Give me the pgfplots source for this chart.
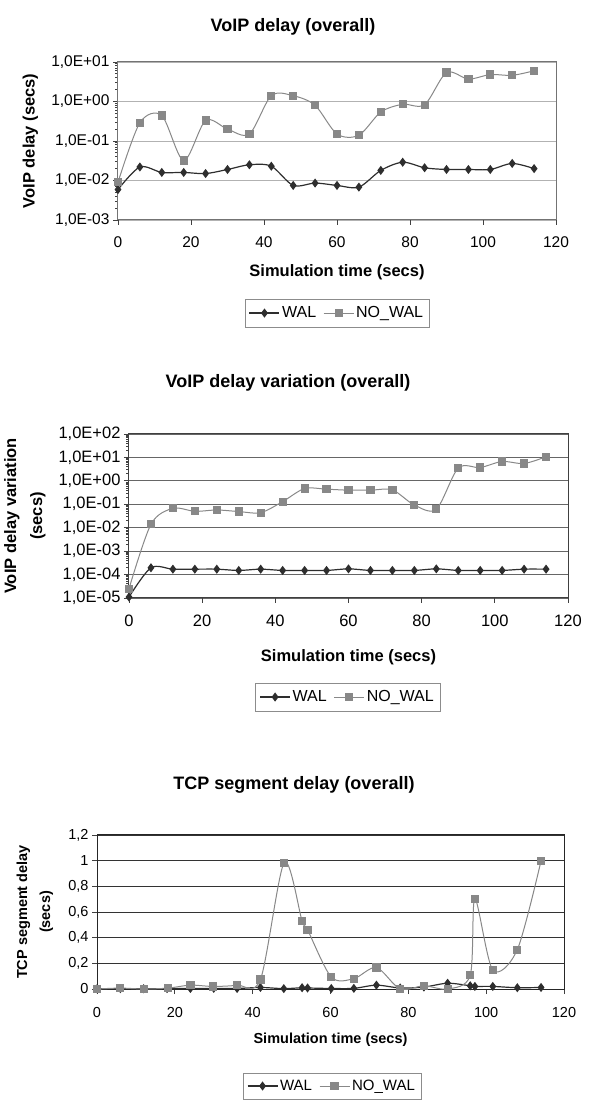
\documentclass[border=0pt]{standalone}
\usepackage{fontspec}
\setmainfont{Liberation Sans}
\usepackage{pgfplots}
\pgfplotsset{compat=1.18}

\definecolor{nowal}{HTML}{888888}
\definecolor{wal}{HTML}{2E2E2E}

\pgfplotsset{
  excel/.style={
    scale only axis, anchor=south west,
    xmin=0, xmax=120, xtick={0,20,...,120},
    ymajorgrids, tick align=outside, major tick length=5pt,
    xtick pos=bottom, ytick pos=left,
    tick style={black!75, line width=0.8pt},
    tick label style={font=\fontsize{15.5}{17}\selectfont},
    xticklabel style={yshift=-8pt},
    /pgf/number format/assume math mode=true,
    label style={font=\bfseries\fontsize{16.5}{18}\selectfont},
    legend columns=2,
    legend style={draw=black!45, font=\fontsize{16}{18}\selectfont, anchor=center,
      inner xsep=4pt, inner ysep=6pt, /tikz/every even column/.append style={column sep=5pt}},
    legend image code/.code={\draw[mark repeat=2,mark phase=2,#1]
      plot coordinates {(0pt,0pt) (15pt,0pt) (30pt,0pt)};},
  },
  walplot/.style={wal, line width=1.2pt, smooth, mark=diamond*, mark size=3.6pt,
    mark options={solid, fill=wal, draw=wal}},
  nowalplot/.style={nowal, line width=1pt, smooth, mark=square*, mark size=3.6pt,
    mark options={solid, fill=nowal, draw=nowal}},
}

\begin{document}
\begin{tikzpicture}[x=1pt,y=1pt]
\path[use as bounding box] (0,0) rectangle (595,1100);

% ---------- VoIP delay ----------
\node[font=\bfseries\fontsize{18}{21}\selectfont] at (293,1073) {VoIP delay (overall)};
\begin{axis}[excel,
  at={(118pt,880pt)}, width=438pt, height=158pt,
  ymode=log, ymin=0.001, ymax=10,
  ytick={0.001,0.01,0.1,1,10},
  yticklabels={{1,0E-03},{1,0E-02},{1,0E-01},{1,0E+00},{1,0E+01}},
  major grid style={black!30, line width=0.8pt},
  axis line style={black!55, line width=1pt},
  xlabel={Simulation time (secs)}, ylabel={VoIP delay (secs)},
  xlabel style={at={(rel axis cs:0.5,-0.329)}, anchor=center},
  ylabel style={at={(rel axis cs:-0.2,0.5)}, anchor=center},
  legend style={at={(0.5,-0.589)}},
]
\addplot[walplot] coordinates {
(0,0.0059)(6,0.022)(12,0.016)(18,0.016)(24,0.015)(30,0.019)(36,0.025)
(42,0.023)(48,0.0075)(54,0.0086)(60,0.0075)(66,0.0068)(72,0.018)(78,0.029)
(84,0.021)(90,0.019)(96,0.019)(102,0.019)(108,0.027)(114,0.020)};
\addplot[nowalplot] coordinates {
(0,0.009)(6,0.29)(12,0.44)(18,0.032)(24,0.33)(30,0.20)(36,0.15)
(42,1.4)(48,1.4)(54,0.8)(60,0.15)(66,0.14)(72,0.54)(78,0.85)
(84,0.83)(90,5.4)(96,3.7)(102,4.8)(108,4.6)(114,6.0)};
\legend{WAL,NO\_WAL}
\end{axis}

% ---------- VoIP delay variation ----------
\node[font=\bfseries\fontsize{18}{21}\selectfont] at (288,717) {VoIP delay variation (overall)};
\begin{axis}[excel,
  at={(129pt,502pt)}, width=439pt, height=164pt,
  ymode=log, ymin=1e-5, ymax=100,
  ytick={1e-5,1e-4,1e-3,1e-2,1e-1,1,10,100},
  yticklabels={{1,0E-05},{1,0E-04},{1,0E-03},{1,0E-02},{1,0E-01},{1,0E+00},{1,0E+01},{1,0E+02}},
  tick label style={font=\fontsize{16.5}{18}\selectfont},
  major grid style={black!60, line width=0.8pt},
  axis line style={black!75, line width=1pt},
  xlabel={Simulation time (secs)}, ylabel={VoIP delay variation\\[8pt](secs)},
  xlabel style={at={(rel axis cs:0.5,-0.36)}, anchor=center},
  ylabel style={at={(rel axis cs:-0.237,0.5)}, anchor=center, align=center},
  legend style={at={(0.498,-0.604)}},
]
\addplot[walplot] coordinates {
(0,1.1e-5)(6,1.95e-4)(12,1.7e-4)(18,1.7e-4)(24,1.7e-4)(30,1.5e-4)(36,1.7e-4)
(42,1.5e-4)(48,1.5e-4)(54,1.5e-4)(60,1.75e-4)(66,1.5e-4)(72,1.5e-4)(78,1.5e-4)
(84,1.75e-4)(90,1.5e-4)(96,1.5e-4)(102,1.5e-4)(108,1.7e-4)(114,1.7e-4)};
\addplot[nowalplot] coordinates {
(0,2.5e-5)(6,0.014)(12,0.067)(18,0.05)(24,0.057)(30,0.049)(36,0.044)
(42,0.13)(48,0.47)(54,0.44)(60,0.40)(66,0.40)(72,0.41)(78,0.093)
(84,0.061)(90,3.5)(96,3.7)(102,6.7)(108,5.5)(114,10.7)};
\legend{WAL,NO\_WAL}
\end{axis}

% ---------- TCP segment delay ----------
\node[font=\bfseries\fontsize{18}{21}\selectfont] at (294,315) {TCP segment delay (overall)};
\begin{axis}[excel,
  at={(97pt,111pt)}, width=467pt, height=154pt,
  ymin=0, ymax=1.2, ytick={0,0.2,...,1.2},
  yticklabels={0,{0,2},{0,4},{0,6},{0,8},1,{1,2}},
  tick label style={font=\fontsize{14.5}{16}\selectfont},
  xticklabel style={yshift=-2pt},
  label style={font=\bfseries\fontsize{14.5}{16}\selectfont},
  major grid style={black!80, line width=0.8pt},
  axis line style={black!85, line width=1pt},
  xlabel={Simulation time (secs)}, ylabel={TCP segment delay\\[7pt](secs)},
  xlabel style={at={(rel axis cs:0.5,-0.331)}, anchor=center},
  ylabel style={at={(rel axis cs:-0.133,0.5)}, anchor=center, align=center},
  legend style={at={(0.503,-0.63)}, font=\fontsize{15}{17}\selectfont, inner ysep=5pt},
]
\addplot[walplot] coordinates {
(0,0.002)(6,0.003)(12,0.002)(18,0.003)(24,0.004)(30,0.005)(36,0.004)
(42,0.012)(48,0.003)(52.7,0.01)(54.1,0.008)(60.2,0.004)(66,0.005)(71.8,0.03)
(77.9,0.008)(84,0.015)(90.1,0.045)(95.9,0.025)(97.1,0.02)(101.7,0.02)(108,0.01)(114.1,0.012)};
\addplot[nowalplot] coordinates {
(0,0)(6,0.007)(12.1,0)(18.3,0.007)(24,0.03)(29.8,0.02)(36,0.03)
(42,0.074)(48.1,0.984)(52.7,0.531)(54.1,0.462)(60.2,0.093)(66,0.081)(71.8,0.167)
(77.9,0)(84,0.025)(90.1,0)(95.9,0.106)(97.1,0.704)(101.7,0.148)(108,0.307)(114.1,0.999)};
\legend{WAL,NO\_WAL}
\end{axis}
\end{tikzpicture}
\end{document}
